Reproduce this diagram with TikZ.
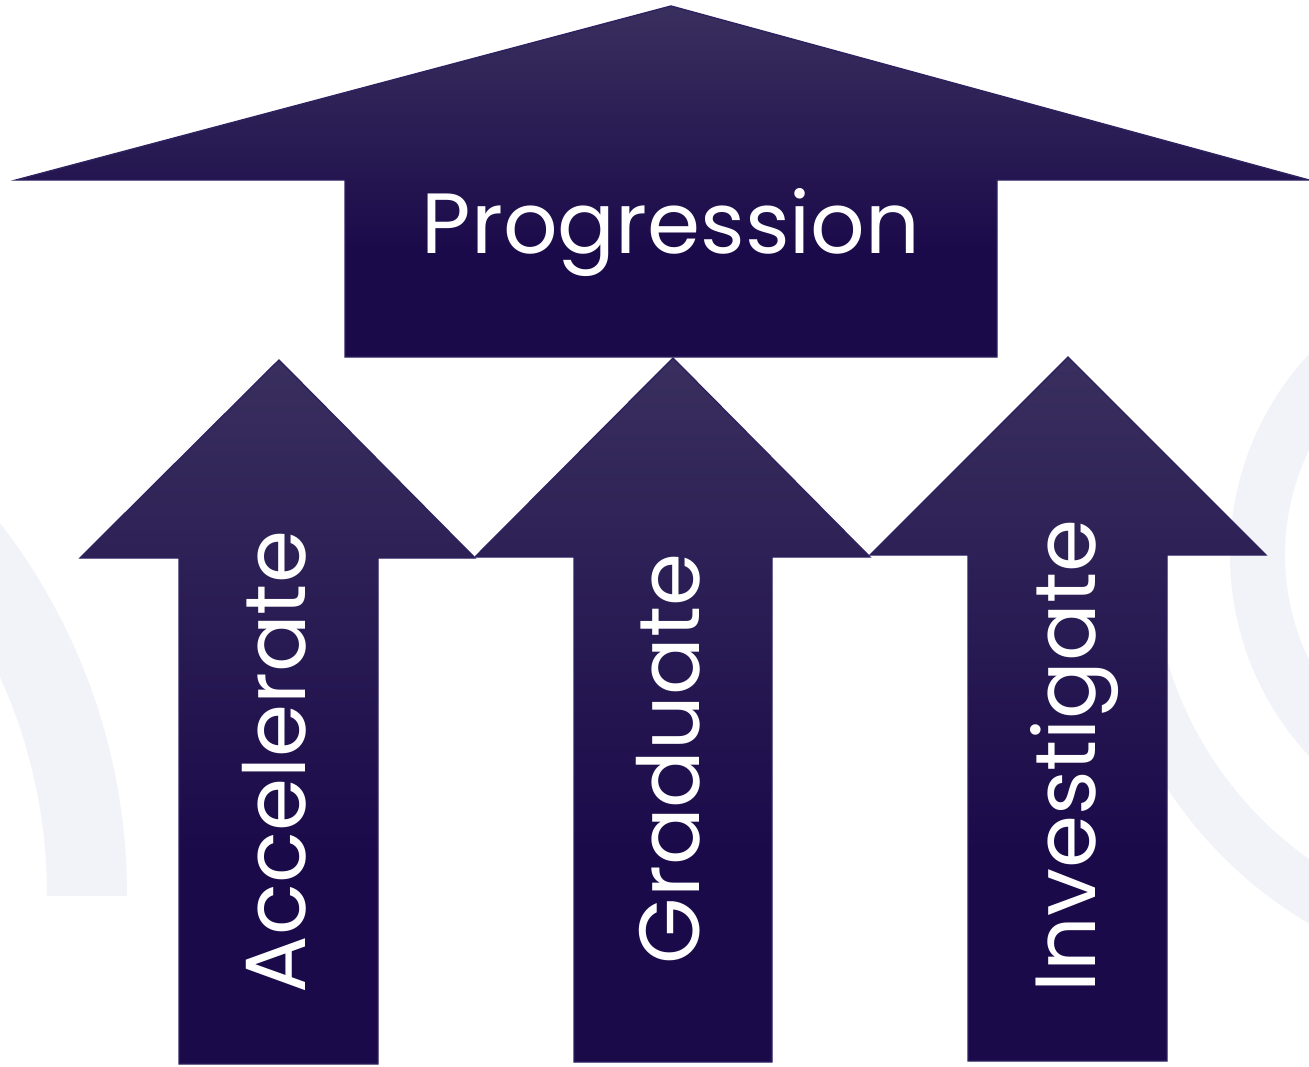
\documentclass[tikz,border=0pt]{standalone}
\usepackage{fontspec}
\setmainfont{Poppins}
\usepackage{tikz}

\definecolor{arrowdark}{HTML}{1B0A4A}
\definecolor{arrowlight}{HTML}{4F4A6C}
\definecolor{arrowedge}{HTML}{2E2260}
\definecolor{ringgrey}{HTML}{F2F3F8}

\pgfdeclareverticalshading{arrowfade}{100bp}{color(0bp)=(arrowdark); color(40bp)=(arrowdark); color(100bp)=(arrowlight)}

\begin{document}
\begin{tikzpicture}[x=0.01cm, y=-0.01cm,
            bigarrow/.style={shading=arrowfade, draw=arrowedge, line width=0.4pt},
            arrow text/.style={text=white, inner sep=0pt, font=\fontsize{24.3}{29}\selectfont},
            ring/.style={fill=ringgrey, even odd rule}]

            \useasboundingbox (0,0) rectangle (1309,1066);
            \fill[white] (0,0) rectangle (1309,1066);

            % Background rings
            \begin{scope}
                \clip (0,0) rectangle (1309,895);
                \fill[ring] (-481,895) circle[radius=608] (-481,895) circle[radius=528];
            \end{scope}
            \begin{scope}
                \clip (0,0) rectangle (1309,1066);
                \fill[ring] (1525,555) circle[radius=295] (1525,555) circle[radius=240];
            \end{scope}
            \begin{scope}
                \clip (0,555) rectangle (1309,1066);
                \fill[ring] (1525,555) circle[radius=427] (1525,555) circle[radius=373];
            \end{scope}

            % Top arrow
            \shadedraw[bigarrow] (345,357) -- (345,180) -- (16,180) -- (671,6) -- (1309,180)
                -- (997,180) -- (997,357) -- cycle;
            \node[arrow text, anchor=base] (progression) at (671,253) {Progression};

            % Upward arrows
            \shadedraw[bigarrow] (179,1064) -- (179,558) -- (80,558) -- (279,360) -- (475,558)
                -- (378,558) -- (378,1064) -- cycle;
            \node[arrow text, rotate=90, anchor=base] (accelerate) at (305,762) {Accelerate};

            \shadedraw[bigarrow] (574,1062) -- (574,557) -- (475,557) -- (673,358) -- (870,557)
                -- (772,557) -- (772,1062) -- cycle;
            \node[arrow text, rotate=90, anchor=base] (graduate) at (699,759) {Graduate};

            \shadedraw[bigarrow] (968,1061) -- (968,555) -- (870,555) -- (1068,357) -- (1266,555)
                -- (1167,555) -- (1167,1061) -- cycle;
            \node[arrow text, rotate=90, anchor=base] (investigate) at (1095,756) {Investigate};
        \end{tikzpicture}
\end{document}
